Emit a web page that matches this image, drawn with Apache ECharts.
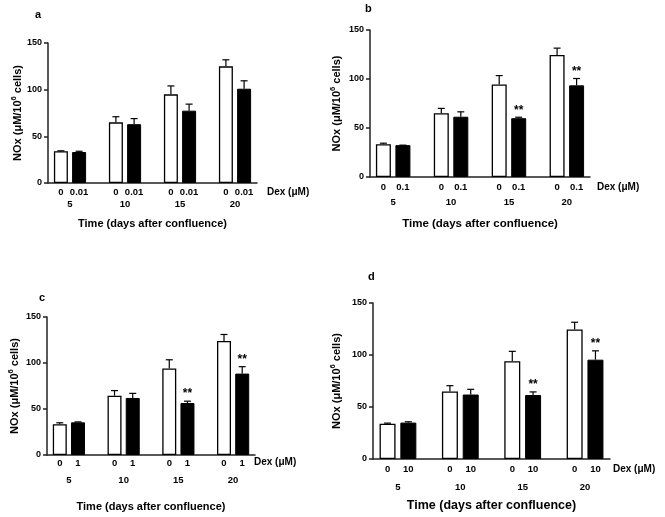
<!DOCTYPE html>
<html>
<head>
<meta charset="utf-8">
<script src="https://cdn.jsdelivr.net/npm/echarts@6/dist/echarts.min.js"></script>
<style>
  html, body { margin: 0; padding: 0; background: #fff; }
  #chartBox { width: 665px; height: 517px; }
</style>
</head>
<body>
<div id="chartBox"></div>
<script>
// days after confluence
const days = [5, 10, 15, 20];
// Dex dose of the treated bars, one per panel
const doses = ['0.01', '0.1', '1', '10'];

// panel a
const ctrlA = [34, 65, 95, 125];
const ctrlErrA = [0.5, 6, 9, 7];
const dexA = [33.2, 63, 77.5, 101];
const dexErrA = [0.8, 6, 7, 8.5];
const sigA = [0, 0, 0, 0];
// panel b
const ctrlB = [33.5, 65, 94.5, 124.5];
const ctrlErrB = [1, 5, 9, 7];
const dexB = [32.5, 61.5, 60, 93.5];
const dexErrB = [0, 5, 1, 7];
const sigB = [0, 0, 1, 1];
// panel c
const ctrlC = [33.5, 64.5, 94, 124];
const ctrlErrC = [1.5, 5.5, 9.5, 7];
const dexC = [35.5, 62, 56.5, 88.5];
const dexErrC = [0.5, 5, 2, 7.5];
const sigC = [0, 0, 1, 1];
// panel d
const ctrlD = [34, 65, 94, 124.5];
const ctrlErrD = [0.5, 5.5, 9.5, 7];
const dexD = [35, 62, 61.5, 95.5];
const dexErrD = [0.8, 5, 3, 8.5];
const sigD = [0, 0, 1, 1];

const yTicks = [0, 50, 100, 150];

const FONT = '"Liberation Sans", Arial, sans-serif';

const panels = [
  { letter: 'a', ctrl: ctrlA, ctrlErr: ctrlErrA, dex: dexA, dexErr: dexErrA, sig: sigA, dose: doses[0],
    grid: { left: 48, top: 43, width: 209, height: 140 }, barW: 14,
    doseDist: 4, dayMargin: 16, nameGap: 35, yNameGap: 22, nameSize: 11,
    letterPos: [35, 9], dexPos: [267, 187] },
  { letter: 'b', ctrl: ctrlB, ctrlErr: ctrlErrB, dex: dexB, dexErr: dexErrB, sig: sigB, dose: doses[1],
    grid: { left: 370, top: 30, width: 220, height: 147 }, barW: 15,
    doseDist: 5, dayMargin: 20, nameGap: 41, yNameGap: 25, nameSize: 11.5,
    letterPos: [365, 3], dexPos: [597, 182] },
  { letter: 'c', ctrl: ctrlC, ctrlErr: ctrlErrC, dex: dexC, dexErr: dexErrC, sig: sigC, dose: doses[2],
    grid: { left: 47, top: 317, width: 208, height: 138 }, barW: 14,
    doseDist: 3, dayMargin: 20, nameGap: 46, yNameGap: 24, nameSize: 11,
    letterPos: [39, 292], dexPos: [254, 457] },
  { letter: 'd', ctrl: ctrlD, ctrlErr: ctrlErrD, dex: dexD, dexErr: dexErrD, sig: sigD, dose: doses[3],
    grid: { left: 373, top: 303, width: 237, height: 156 }, barW: 16,
    doseDist: 5, dayMargin: 23, nameGap: 40, yNameGap: 28, nameSize: 12.5,
    letterPos: [368, 271], dexPos: [613, 464] }
];

function errorBars(barW) {
  return function (params, api) {
    const side = api.value(4);
    const base = api.coord([api.value(0), api.value(1)]);
    const top = api.coord([api.value(0), api.value(1) + api.value(2)]);
    const x = base[0] + side * barW * 0.65;
    const kids = [
      { type: 'line', shape: { x1: x, y1: base[1], x2: x, y2: top[1] }, style: { stroke: '#000', lineWidth: 1.2 } },
      { type: 'line', shape: { x1: x - 3.5, y1: top[1], x2: x + 3.5, y2: top[1] }, style: { stroke: '#000', lineWidth: 1.2 } }
    ];
    if (api.value(3)) {
      kids.push({ type: 'text', x: x, y: top[1] - 1,
        style: { text: '**', textAlign: 'center', textVerticalAlign: 'bottom',
          font: 'bold 12px ' + FONT, fill: '#000' } });
    }
    return { type: 'group', children: kids };
  };
}

const grids = [], xAxes = [], yAxes = [], series = [], graphics = [];

panels.forEach(function (p, i) {
  grids.push(p.grid);
  xAxes.push({
    type: 'value', gridIndex: i, min: 3, max: 22,
    name: 'Time (days after confluence)', nameLocation: 'middle', nameGap: p.nameGap,
    nameTextStyle: { fontFamily: FONT, fontWeight: 'bold', fontSize: p.nameSize, color: '#000' },
    axisLine: { lineStyle: { color: '#222', width: 1.5 } },
    axisTick: { show: false },
    splitLine: { show: false },
    axisLabel: { customValues: days, margin: p.dayMargin, fontFamily: FONT, fontWeight: 'bold', fontSize: 9.5, color: '#000' }
  });
  yAxes.push({
    type: 'value', gridIndex: i, min: 0, max: 150, interval: 50,
    name: '{a|NOx (μM/10}{s|6}{a| cells)}', nameLocation: 'middle', nameGap: p.yNameGap,
    nameTextStyle: { rich: {
      a: { fontFamily: FONT, fontWeight: 'bold', fontSize: 11, color: '#000', lineHeight: 16 },
      s: { fontFamily: FONT, fontWeight: 'bold', fontSize: 7.5, color: '#000', verticalAlign: 'top' }
    } },
    axisLine: { show: true, lineStyle: { color: '#222', width: 1.5 } },
    axisTick: { show: true, length: 4, lineStyle: { color: '#222', width: 1.5 } },
    splitLine: { show: false },
    axisLabel: { margin: 6, fontFamily: FONT, fontWeight: 'bold', fontSize: 9, color: '#000' }
  });

  const labelFor = function (txt) {
    return { show: true, position: 'bottom', distance: p.doseDist, formatter: txt,
      fontFamily: FONT, fontWeight: 'bold', fontSize: 9.5, color: '#000' };
  };
  series.push({
    type: 'bar', xAxisIndex: i, yAxisIndex: i, barWidth: p.barW, barGap: '30%',
    data: days.map(function (d, k) { return [d, p.ctrl[k]]; }),
    itemStyle: { color: '#fff', borderColor: '#000', borderWidth: 1.3 },
    label: labelFor('0'), silent: true
  });
  series.push({
    type: 'bar', xAxisIndex: i, yAxisIndex: i, barWidth: p.barW, barGap: '30%',
    data: days.map(function (d, k) { return [d, p.dex[k]]; }),
    itemStyle: { color: '#000', borderColor: '#000', borderWidth: 1 },
    label: labelFor(p.dose), silent: true
  });
  const errData = [];
  days.forEach(function (d, k) {
    errData.push([d, p.ctrl[k], p.ctrlErr[k], 0, -1]);
    errData.push([d, p.dex[k], p.dexErr[k], p.sig[k], 1]);
  });
  series.push({
    type: 'custom', xAxisIndex: i, yAxisIndex: i, clip: false, silent: true, z: 3,
    encode: { x: 0, y: 1 },
    renderItem: errorBars(p.barW),
    data: errData
  });

  graphics.push({ type: 'text', left: p.letterPos[0], top: p.letterPos[1],
    style: { text: p.letter, font: 'bold 11px ' + FONT, fill: '#000' } });
  graphics.push({ type: 'text', left: p.dexPos[0], top: p.dexPos[1],
    style: { text: 'Dex (μM)', font: 'bold 10px ' + FONT, fill: '#000' } });
});

const myChart = echarts.init(document.getElementById('chartBox'), null, { renderer: 'canvas' });
myChart.setOption({
  backgroundColor: '#fff',
  animation: false,
  textStyle: { fontFamily: FONT },
  grid: grids,
  xAxis: xAxes,
  yAxis: yAxes,
  series: series,
  graphic: graphics
});
</script>
</body>
</html>
